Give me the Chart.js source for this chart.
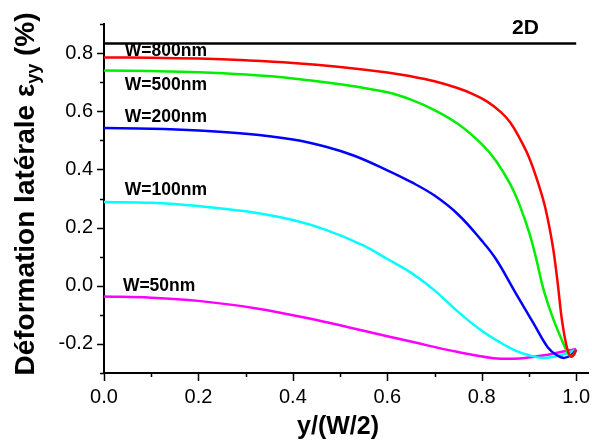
<!DOCTYPE html>
<html>
<head>
<meta charset="utf-8">
<script src="https://cdn.jsdelivr.net/npm/chart.js@4/dist/chart.umd.min.js"></script>
<style>
  html, body { margin: 0; padding: 0; background: #fff; }
  #wrap { width: 592px; height: 441px; }
</style>
</head>
<body>
<div id="wrap"><canvas id="chart" width="592" height="441"></canvas></div>
<script>
// valeurs
const xTickValues = [0, 0.1, 0.2, 0.3, 0.4, 0.5, 0.6, 0.7, 0.8, 0.9, 1.0];
const xTickLabels = ['0.0', '', '0.2', '', '0.4', '', '0.6', '', '0.8', '', '1.0'];
const yTickValues = [-0.3, -0.2, -0.1, 0, 0.1, 0.2, 0.3, 0.4, 0.5, 0.6, 0.7, 0.8, 0.9];
const yTickLabels = ['', '-0.2', '', '0.0', '', '0.2', '', '0.4', '', '0.6', '', '0.8', ''];

const seriesNames = ['2D', 'W=800nm', 'W=500nm', 'W=200nm', 'W=100nm', 'W=50nm'];

const x2D = [0, 1.0];
const y2D = [0.833, 0.833];

const x800 = [0, 0.1, 0.2, 0.3, 0.4, 0.5, 0.6, 0.65, 0.7, 0.75, 0.78, 0.81, 0.84, 0.86, 0.88, 0.9, 0.92, 0.935, 0.95, 0.96, 0.97, 0.98, 0.988, 0.994, 1.0];
const y800 = [0.785, 0.784, 0.781, 0.775, 0.766, 0.752, 0.733, 0.720, 0.703, 0.679, 0.660, 0.635, 0.598, 0.562, 0.508, 0.442, 0.350, 0.265, 0.140, 0.020, -0.120, -0.210, -0.243, -0.240, -0.220];

const x500 = [0, 0.1, 0.2, 0.3, 0.4, 0.5, 0.6, 0.65, 0.7, 0.75, 0.8, 0.83, 0.86, 0.88, 0.9, 0.915, 0.93, 0.95, 0.97, 0.985, 0.993, 1.0];
const y500 = [0.740, 0.738, 0.734, 0.726, 0.713, 0.693, 0.665, 0.640, 0.604, 0.556, 0.487, 0.430, 0.350, 0.278, 0.185, 0.095, -0.008, -0.108, -0.188, -0.238, -0.240, -0.220];

const x200 = [0, 0.1, 0.2, 0.3, 0.4, 0.47, 0.53, 0.6, 0.65, 0.7, 0.75, 0.8, 0.83, 0.87, 0.91, 0.94, 0.96, 0.975, 0.99, 1.0];
const y200 = [0.542, 0.540, 0.534, 0.523, 0.503, 0.478, 0.447, 0.397, 0.357, 0.310, 0.245, 0.155, 0.092, -0.020, -0.130, -0.212, -0.240, -0.248, -0.237, -0.220];

const x100 = [0, 0.1, 0.2, 0.3, 0.4, 0.47, 0.55, 0.6, 0.65, 0.7, 0.75, 0.8, 0.84, 0.87, 0.9, 0.93, 0.965, 1.0];
const y100 = [0.288, 0.285, 0.274, 0.256, 0.226, 0.192, 0.138, 0.092, 0.045, -0.016, -0.090, -0.155, -0.196, -0.222, -0.239, -0.248, -0.240, -0.220];

const x50 = [0, 0.1, 0.2, 0.32, 0.45, 0.55, 0.65, 0.75, 0.825, 0.88, 0.94, 1.0];
const y50 = [-0.037, -0.041, -0.052, -0.077, -0.118, -0.155, -0.192, -0.228, -0.249, -0.250, -0.237, -0.217];

// étiquettes des courbes (coordonnées des données : x à gauche, y au milieu du texte)
const labelTexts = ['2D', 'W=800nm', 'W=500nm', 'W=200nm', 'W=100nm', 'W=50nm'];
const labelX = [0.864, 0.044, 0.044, 0.044, 0.044, 0.040];
const labelY = [0.887, 0.807, 0.691, 0.578, 0.330, -0.002];

const FONT = "'Liberation Sans', Arial, Helvetica, sans-serif";

function pts(xs, ys) {
    return xs.map((x, i) => ({ x: x, y: ys[i] }));
}

function serie(label, xs, ys, couleur) {
    return {
        label: label,
        data: pts(xs, ys),
        borderColor: couleur,
        borderWidth: 2.5,
        pointRadius: 0,
        fill: false,
        tension: 0.4
    };
}

// ticks longs / courts, titres et étiquettes
const decorPlugin = {
    id: 'decor',
    beforeDatasetsDraw(chart) {
        const ctx = chart.ctx;
        const sx = chart.scales.x, sy = chart.scales.y;
        ctx.save();
        ctx.fillStyle = '#000';
        ctx.textBaseline = 'middle';
        ctx.textAlign = 'left';
        labelTexts.forEach((t, i) => {
            ctx.font = (i === 0 ? 'bold 21px ' : 'bold 17.5px ') + FONT;
            ctx.fillText(t, sx.getPixelForValue(labelX[i]), sy.getPixelForValue(labelY[i]));
        });
        ctx.restore();
    },
    afterDraw(chart) {
        const ctx = chart.ctx;
        const sx = chart.scales.x, sy = chart.scales.y;
        const area = chart.chartArea;
        ctx.save();
        ctx.strokeStyle = '#000';
        ctx.lineWidth = 1.5;
        ctx.beginPath();
        xTickValues.forEach((v, i) => {
            const px = Math.round(sx.getPixelForValue(v)) + 0.5;
            const len = xTickLabels[i] ? 8 : 4;
            ctx.moveTo(px, area.bottom);
            ctx.lineTo(px, area.bottom + len);
        });
        yTickValues.forEach((v, i) => {
            const py = Math.round(sy.getPixelForValue(v)) + 0.5;
            const len = yTickLabels[i] ? 7 : 4;
            ctx.moveTo(area.left, py);
            ctx.lineTo(area.left - len, py);
        });
        ctx.stroke();

        // titre x
        ctx.fillStyle = '#000';
        ctx.font = 'bold 25px ' + FONT;
        ctx.textAlign = 'center';
        ctx.textBaseline = 'alphabetic';
        ctx.fillText('y/(W/2)', 338, 434);

        // titre y avec indice
        const main = 'Déformation latérale ε';
        const sub = 'yy';
        const tail = ' (%)';
        const fMain = 'bold 28px ' + FONT;
        const fSub = 'bold 18px ' + FONT;
        ctx.font = fMain;
        const w1 = ctx.measureText(main).width;
        const w3 = ctx.measureText(tail).width;
        ctx.font = fSub;
        const w2 = ctx.measureText(sub).width;
        const total = w1 + w2 + w3;
        ctx.translate(34, 194);
        ctx.rotate(-Math.PI / 2);
        ctx.textAlign = 'left';
        let pos = -total / 2;
        ctx.font = fMain;
        ctx.fillText(main, pos, 0);
        pos += w1;
        ctx.font = fSub;
        ctx.fillText(sub, pos, 5);
        pos += w2;
        ctx.font = fMain;
        ctx.fillText(tail, pos, 0);
        ctx.restore();
    }
};

const ctx = document.getElementById('chart').getContext('2d');
new Chart(ctx, {
    type: 'line',
    data: {
        datasets: [
            serie(seriesNames[0], x2D, y2D, '#000000'),
            serie(seriesNames[1], x800, y800, '#ff0000'),
            serie(seriesNames[2], x500, y500, '#00ee00'),
            serie(seriesNames[3], x200, y200, '#0000ff'),
            serie(seriesNames[4], x100, y100, '#00ffff'),
            serie(seriesNames[5], x50, y50, '#ff00ff')
        ]
    },
    options: {
        responsive: false,
        animation: false,
        devicePixelRatio: 1,
        layout: { padding: { top: 24, right: 4, left: 0, bottom: 0 } },
        plugins: {
            legend: { display: false },
            tooltip: { enabled: false }
        },
        scales: {
            x: {
                type: 'linear',
                min: 0,
                max: 1.025,
                afterBuildTicks: (s) => { s.ticks = xTickValues.map(v => ({ value: v })); },
                afterFit: (s) => { s.height = 68; s.paddingLeft = 0; s.paddingRight = 0; },
                grid: { display: false, drawTicks: false },
                border: { display: true, color: '#000', width: 2 },
                ticks: {
                    autoSkip: false,
                    maxRotation: 0,
                    padding: 12,
                    color: '#000',
                    font: { family: FONT, size: 20 },
                    callback: (v, i) => xTickLabels[i]
                }
            },
            y: {
                type: 'linear',
                min: -0.3,
                max: 0.9,
                afterBuildTicks: (s) => { s.ticks = yTickValues.map(v => ({ value: v })); },
                afterFit: (s) => { s.width = 104; s.paddingTop = 0; s.paddingBottom = 0; },
                grid: { display: false, drawTicks: false },
                border: { display: true, color: '#000', width: 2 },
                ticks: {
                    autoSkip: false,
                    padding: 11,
                    color: '#000',
                    font: { family: FONT, size: 20 },
                    callback: (v, i) => yTickLabels[i]
                }
            }
        }
    },
    plugins: [decorPlugin]
});
</script>
</body>
</html>
